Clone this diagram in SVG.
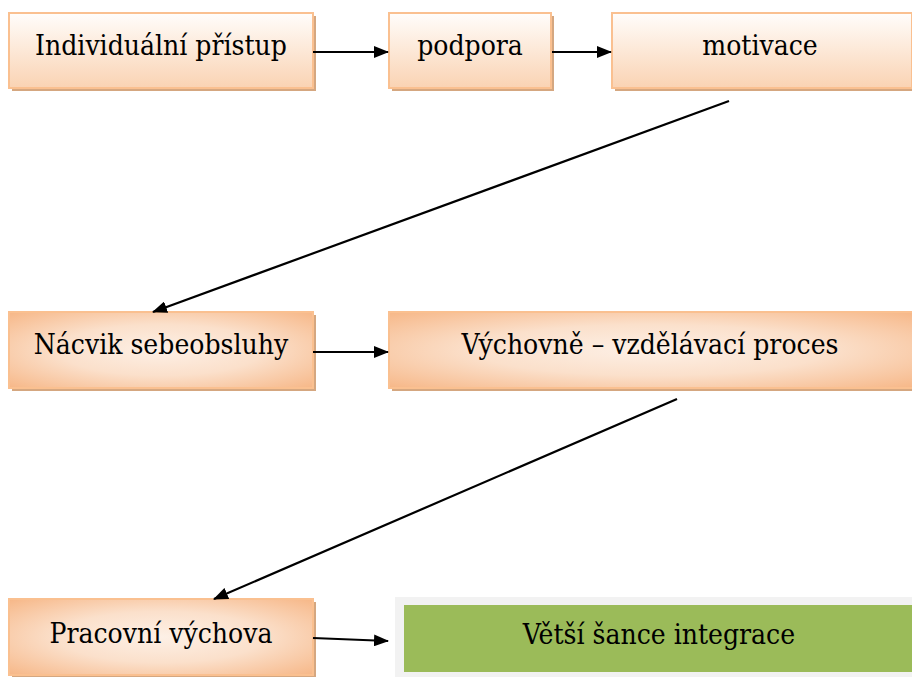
<svg xmlns="http://www.w3.org/2000/svg" width="912" height="677" viewBox="0 0 912 677">
<defs>
<linearGradient id="gLin" x1="0" y1="0" x2="0" y2="1">
<stop offset="0" stop-color="#fffdfb"/>
<stop offset="1" stop-color="#fad3b3"/>
</linearGradient>
<radialGradient id="gRad" cx="0.5" cy="0.5" r="0.75">
<stop offset="0" stop-color="#fdf0e6"/>
<stop offset="0.45" stop-color="#fbe0cb"/>
<stop offset="1" stop-color="#f6b27f"/>
</radialGradient>
<marker id="ah" markerWidth="15" markerHeight="12" refX="14" refY="6" orient="auto" markerUnits="userSpaceOnUse">
<path d="M0,0 L15,6 L0,12 z" fill="#000"/>
</marker>
<style>
.sh{fill:#d5a780}
.box1{fill:url(#gLin);stroke:#fac090;stroke-width:2}
.box2{fill:url(#gRad);stroke:#fac090;stroke-width:2}
text{font-family:'DejaVu Serif Condensed','DejaVu Serif',serif;font-stretch:condensed;font-size:28px;fill:#000;text-anchor:middle}
.c{stroke:#000;stroke-width:2.2;fill:none;marker-end:url(#ah)}
</style>
</defs>
<rect width="912" height="677" fill="#fff"/>
<g id="n1">
<rect class="sh" x="12" y="16" width="304" height="75"/>
<rect class="box1" x="9" y="13" width="304" height="75"/>
<text x="161" y="55">Individuální přístup</text>
</g>
<g id="n2">
<rect class="sh" x="392" y="16" width="162" height="75"/>
<rect class="box1" x="389" y="13" width="162" height="75"/>
<text x="470" y="55">podpora</text>
</g>
<g id="n3">
<rect class="sh" x="615" y="16" width="300" height="75"/>
<rect class="box1" x="612" y="13" width="300" height="75"/>
<text x="760" y="55">motivace</text>
</g>
<g id="n4">
<rect class="sh" x="12" y="315" width="304" height="76"/>
<rect class="box2" x="9" y="312" width="304" height="76"/>
<text x="161" y="354">Nácvik sebeobsluhy</text>
</g>
<g id="n5">
<rect class="sh" x="392" y="315" width="525" height="76"/>
<rect class="box2" x="389" y="312" width="525" height="76"/>
<text x="650" y="354">Výchovně – vzdělávací proces</text>
</g>
<g id="n6">
<rect class="sh" x="12" y="602" width="304" height="76"/>
<rect class="box2" x="9" y="599" width="304" height="76"/>
<text x="161" y="643">Pracovní výchova</text>
</g>
<g id="n7">
<rect x="395" y="597" width="520" height="80" fill="#f2f2f2"/>
<rect x="404" y="605" width="511" height="67" fill="#9bbb59"/>
<text x="659" y="644">Větší šance integrace</text>
</g>
<g id="connectors">
<line class="c" x1="313" y1="52" x2="388" y2="52"/>
<line class="c" x1="552" y1="52" x2="611" y2="52"/>
<line class="c" x1="729" y1="101" x2="153" y2="312"/>
<line class="c" x1="313" y1="352" x2="388" y2="352"/>
<line class="c" x1="677" y1="399" x2="214" y2="599"/>
<line class="c" x1="313" y1="638" x2="388" y2="641"/>
</g>
</svg>
